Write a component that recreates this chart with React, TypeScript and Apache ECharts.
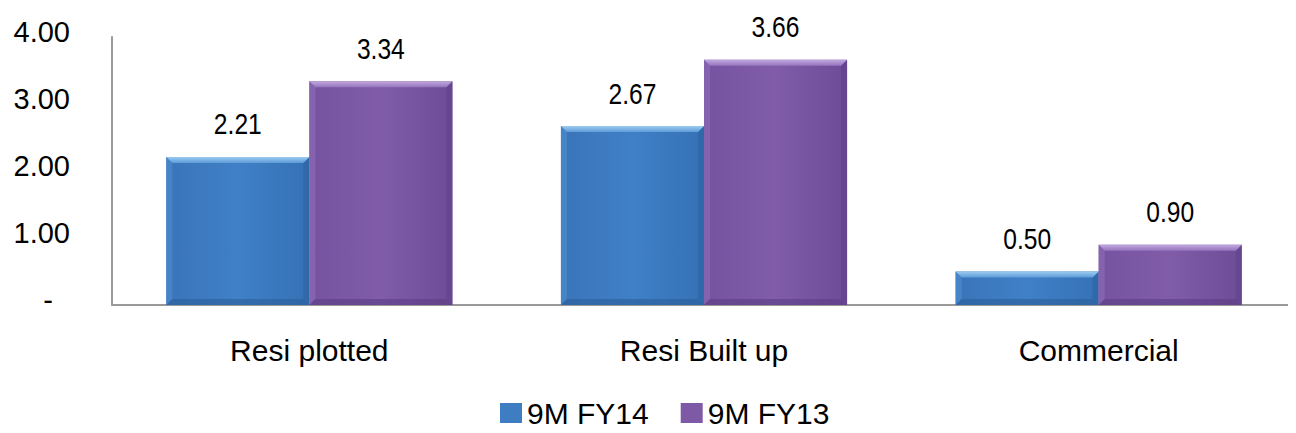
import React, { useEffect, useRef } from "react";
import * as echarts from "echarts";

const categories = ["Resi plotted", "Resi Built up", "Commercial"];
const fy14 = [2.21, 2.67, 0.5];
const fy13 = [3.34, 3.66, 0.9];
const seriesNames = ["9M FY14", "9M FY13"];
const yTicks = { min: 0, max: 4, interval: 1 };

const REG = "'Liberation Sans', Arial, sans-serif";

const palettes = [
  { main: ["#3a74b9", "#4080c6", "#3571b5"], top: ["#9ccbf0", "#5d9bd9"], left: "#4a88cc", right: "#2f66a6", bottom: "#2d62a0", legend: "#3f7dc3" },
  { main: ["#7653a0", "#805ca9", "#6d4c96"], top: ["#c2a8de", "#9575bd"], left: "#8a66b2", right: "#654590", bottom: "#5f4288", legend: "#7e5aa6" },
];

function makeRender(seriesIdx: number, values: number[]) {
  return (params: any, api: any) => {
    const idx = api.value(0);
    const val = api.value(1);
    const band = api.size([1, 0])[0];
    const barW = band * 0.3625;
    const base = api.coord([idx, 0]);
    const top = api.coord([idx, val]);
    const x0 = base[0] - barW + seriesIdx * barW;
    const x1 = x0 + barW;
    const y0 = top[1];
    const y1 = base[1];
    const h = y1 - y0;
    const b = Math.min(6, h / 3);
    const p = palettes[seriesIdx];
    return {
      type: "group",
      children: [
        {
          type: "rect",
          shape: { x: x0, y: y0, width: barW, height: h },
          style: {
            fill: new echarts.graphic.LinearGradient(0, 0, 1, 0, [
              { offset: 0, color: p.main[0] },
              { offset: 0.5, color: p.main[1] },
              { offset: 1, color: p.main[2] },
            ]),
          },
        },
        {
          type: "polygon",
          shape: { points: [[x0, y0], [x0 + b, y0 + b], [x0 + b, y1 - b], [x0, y1]] },
          style: { fill: p.left, opacity: 0.8 },
        },
        {
          type: "polygon",
          shape: { points: [[x1, y0], [x1 - b, y0 + b], [x1 - b, y1 - b], [x1, y1]] },
          style: { fill: p.right, opacity: 0.8 },
        },
        {
          type: "polygon",
          shape: { points: [[x0, y1], [x0 + b, y1 - b], [x1 - b, y1 - b], [x1, y1]] },
          style: { fill: p.bottom, opacity: 0.7 },
        },
        {
          type: "polygon",
          shape: { points: [[x0, y0], [x1, y0], [x1 - b, y0 + b], [x0 + b, y0 + b]] },
          style: {
            fill: new echarts.graphic.LinearGradient(0, 0, 0, 1, [
              { offset: 0, color: p.top[0] },
              { offset: 1, color: p.top[1] },
            ]),
          },
        },
        {
          type: "text",
          x: (x0 + x1) / 2,
          y: y0 - 18,
          scaleX: 0.82,
          style: {
            x: 0,
            y: 0,
            text: values[idx].toFixed(2),
            fill: "#000",
            font: `30px ${REG}`,
            align: "center",
            verticalAlign: "bottom",
          },
        },
      ],
    };
  };
}

export default function App() {
  const ref = useRef<HTMLDivElement>(null);
  useEffect(() => {
    if (!ref.current) return;
    const chart = echarts.init(ref.current, null, { renderer: "svg" });
    chart.setOption({
      animation: false,
      textStyle: { fontFamily: REG },
      grid: { left: 104, right: 0, top: 29, bottom: 128, containLabel: false },
      legend: {
        top: 385,
        left: 487,
        itemWidth: 22,
        itemHeight: 20,
        itemGap: 32,
        icon: "rect",
        textStyle: { fontSize: 30, color: "#000", fontFamily: REG },
        data: seriesNames,
      },
      xAxis: {
        type: "category",
        data: categories,
        axisLine: { lineStyle: { color: "#999999", width: 2 } },
        axisTick: { show: false },
        axisLabel: { fontSize: 30, color: "#000", margin: 30, fontFamily: REG },
      },
      yAxis: {
        type: "value",
        min: yTicks.min,
        max: yTicks.max,
        interval: yTicks.interval,
        splitLine: { show: false },
        axisLine: { show: true, lineStyle: { color: "#999999", width: 2 } },
        axisTick: { show: false },
        axisLabel: {
          fontSize: 29,
          color: "#000",
          margin: 42,
          fontFamily: REG,
          padding: [0, 0, 10, 0],
          formatter: (v: number) => (v === 0 ? "{z|-}" : v.toFixed(2)),
          rich: { z: { fontSize: 29, fontFamily: REG, padding: [0, 17, 0, 0] } },
        },
      },
      series: [
        {
          name: seriesNames[0],
          type: "custom",
          data: fy14.map((v, i) => [i, v]),
          itemStyle: { color: palettes[0].legend },
          encode: { x: 0, y: 1 },
          renderItem: makeRender(0, fy14),
        },
        {
          name: seriesNames[1],
          type: "custom",
          data: fy13.map((v, i) => [i, v]),
          itemStyle: { color: palettes[1].legend },
          encode: { x: 0, y: 1 },
          renderItem: makeRender(1, fy13),
        },
      ],
    });
    return () => chart.dispose();
  }, []);
  return <div ref={ref} style={{ width: 1288, height: 425 }} />;
}
